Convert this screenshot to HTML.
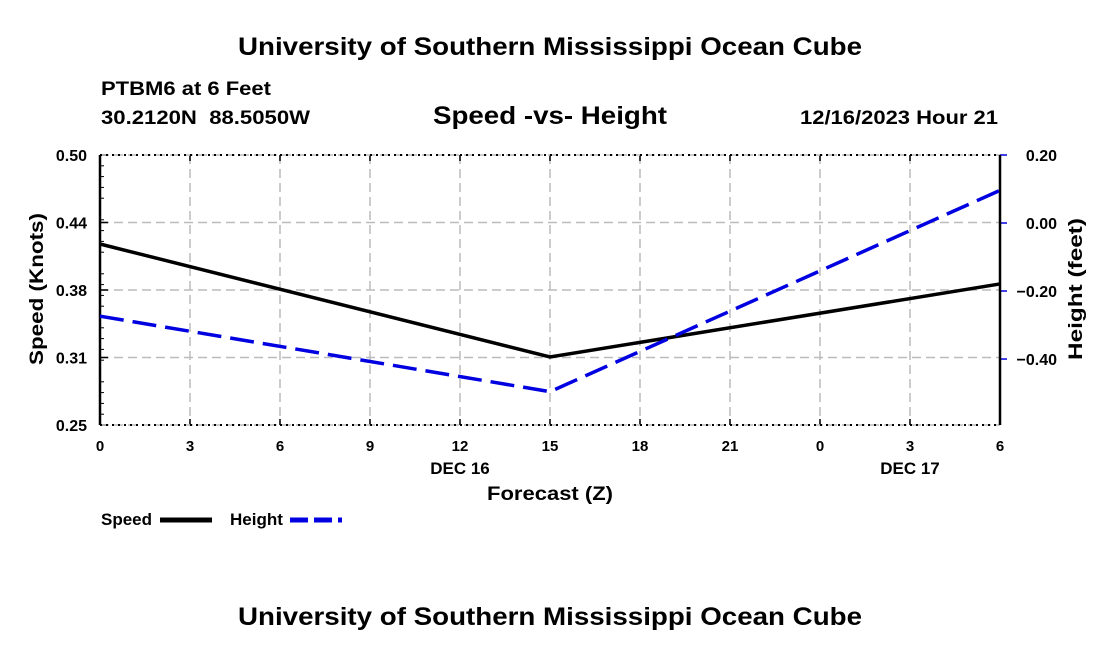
<!DOCTYPE html>
<html><head><meta charset="utf-8"><style>
body{margin:0;background:#fff;width:1100px;height:650px;overflow:hidden}
text{font-family:"Liberation Sans",sans-serif;font-weight:bold;fill:#000}
</style></head><body>
<svg id="chart" width="1100" height="650" xmlns="http://www.w3.org/2000/svg">
<text x="238" y="55" font-size="25" textLength="624" lengthAdjust="spacingAndGlyphs">University of Southern Mississippi Ocean Cube</text>
<text x="101" y="95" font-size="19" textLength="170" lengthAdjust="spacingAndGlyphs">PTBM6 at 6 Feet</text>
<text x="101" y="124" font-size="19" xml:space="preserve" textLength="209" lengthAdjust="spacingAndGlyphs">30.2120N  88.5050W</text>
<text x="433" y="124" font-size="25" textLength="234" lengthAdjust="spacingAndGlyphs">Speed -vs- Height</text>
<text x="800" y="124" font-size="19" textLength="198" lengthAdjust="spacingAndGlyphs">12/16/2023 Hour 21</text>
<g id="grid"></g>
<g id="axes"></g>
<g id="series"></g>
<text transform="translate(43,289) rotate(-90)" font-size="19" text-anchor="middle" textLength="152" lengthAdjust="spacingAndGlyphs">Speed (Knots)</text>
<text transform="translate(1082,289) rotate(-90)" font-size="19" text-anchor="middle" textLength="142" lengthAdjust="spacingAndGlyphs">Height (feet)</text>
<text x="460" y="474" font-size="17" text-anchor="middle">DEC 16</text>
<text x="910" y="474" font-size="17" text-anchor="middle">DEC 17</text>
<text x="550" y="500" font-size="19" text-anchor="middle" textLength="126" lengthAdjust="spacingAndGlyphs">Forecast (Z)</text>
<g>
<text x="101" y="525" font-size="17">Speed</text>
<line x1="160" y1="520" x2="212" y2="520" stroke="#000" stroke-width="5"/>
<text x="230" y="525" font-size="17">Height</text>
<line x1="290" y1="520" x2="342" y2="520" stroke="#0000e0" stroke-width="5" stroke-dasharray="18,6"/>
</g>
<text x="238" y="625" font-size="25" textLength="624" lengthAdjust="spacingAndGlyphs">University of Southern Mississippi Ocean Cube</text>
</svg>
<script>
const hours=[0,15,30];
const speedValues=[0.4176,0.313,0.3806];
const heightValues=[-0.274,-0.496,0.096];
const xTickLabels=["0","3","6","9","12","15","18","21","0","3","6"];
const leftTickLabels=["0.25","0.31","0.38","0.44","0.50"];
const rightTickValues=[0.2,0,-0.2,-0.4];
const rightTickLabels=["0.20","0.00","\u22120.20","\u22120.40"];
const L=100,R=1000,T=155,B=425;
const xS=h=>L+(h/30)*(R-L);
const yL=v=>B-(v-0.25)/0.25*(B-T);
const yR=v=>B-(v+0.594)/0.794*(B-T);
const NS="http://www.w3.org/2000/svg";
function mk(tag,attrs,parent){const e=document.createElementNS(NS,tag);for(const k in attrs)e.setAttribute(k,attrs[k]);document.getElementById(parent).appendChild(e);return e;}
xTickLabels.forEach((lab,i)=>{const x=xS(i*3);
 if(i>0&&i<xTickLabels.length-1){const g=mk('line',{x1:x,y1:T,x2:x,y2:B,stroke:'#bbb','stroke-width':1.5,'stroke-dasharray':'9,5'},'grid');
 
 }
 const tk=mk('line',{x1:x,y1:B,x2:x,y2:B-6,stroke:'#000','stroke-width':1.5},'axes');
 
 
 const tk2=mk('line',{x1:x,y1:T,x2:x,y2:T+6,stroke:'#000','stroke-width':1.5},'axes');
 
 
 const t=mk('text',{x:x,y:B+26,'font-size':15,'text-anchor':'middle'},'axes');t.textContent=lab;
 
 });
leftTickLabels.forEach((lab,i)=>{const v=0.25+i*0.0625,y=yL(v);
 if(i>0&&i<leftTickLabels.length-1){const g=mk('line',{x1:L,y1:y,x2:R,y2:y,stroke:'#bbb','stroke-width':1.5,'stroke-dasharray':'9,5'},'grid');
 
 }
 const tk=mk('line',{x1:L,y1:y,x2:L+8,y2:y,stroke:'#000','stroke-width':1.5},'axes');
 
 
 const t=mk('text',{x:L-13,y:y+6,'font-size':16,'text-anchor':'end'},'axes');t.textContent=lab;
 
 });
for(let i=1;i<25;i++){if(i%5===0)continue;const y=B-i*(B-T)/25;
 const m=mk('line',{x1:L,y1:y,x2:L+4,y2:y,stroke:'#000','stroke-width':1},'axes');
 
 }
rightTickValues.forEach((v,i)=>{const y=yR(v);
 const tk=mk('line',{x1:R,y1:y,x2:R+7,y2:y,stroke:'#0000e0','stroke-width':1.5},'axes');
 
 
 const t=mk('text',{x:R+57,y:y+6,'font-size':16,'text-anchor':'end'},'axes');t.textContent=rightTickLabels[i];
 
 });
[[L,T,R,T],[L,B,R,B]].forEach(a=>{
 const bg=mk('line',{x1:a[0],y1:a[1],x2:a[2],y2:a[3],stroke:'#bbb','stroke-width':1.5,'stroke-dasharray':'9,5'},'axes');
 
 
 const f=mk('line',{x1:a[0],y1:a[1],x2:a[2],y2:a[3],stroke:'#000','stroke-width':2,'stroke-dasharray':'2,4'},'axes');
 
 });
const la=mk('line',{x1:L,y1:T,x2:L,y2:B,stroke:'#000','stroke-width':2.5},'axes');


const ra=mk('line',{x1:R,y1:T,x2:R,y2:B,stroke:'#000','stroke-width':2.5},'axes');


const sp=mk('polyline',{points:hours.map((h,i)=>xS(h)+','+yL(speedValues[i])).join(' '),fill:'none',stroke:'#000','stroke-width':3.5},'series');


const ht=mk('polyline',{points:hours.map((h,i)=>xS(h)+','+yR(heightValues[i])).join(' '),fill:'none',stroke:'#0000e0','stroke-width':3.5,'stroke-dasharray':'24,9'},'series');


</script>
</body></html>
